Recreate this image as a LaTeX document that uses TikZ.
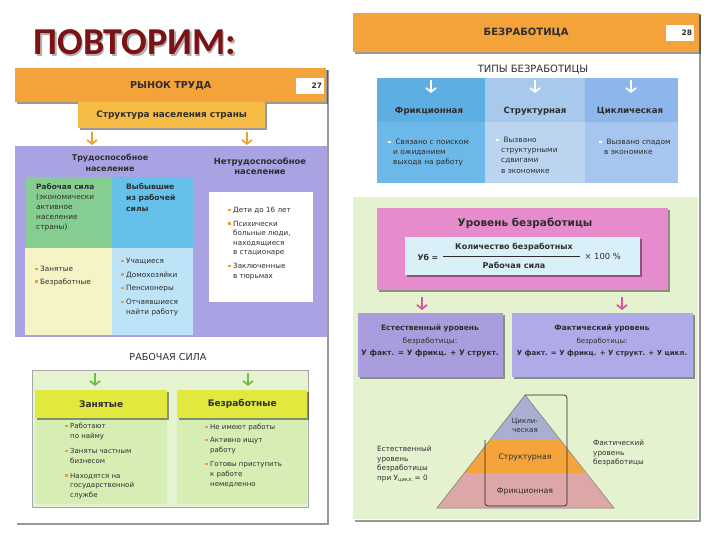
\documentclass[tikz,border=0pt]{standalone}
\usepackage{fontspec}
\setmainfont{DejaVu Sans}
\newfontfamily\titlefont{Carlito}
\usetikzlibrary{shadows,arrows.meta}
\definecolor{hdr}{HTML}{F4A23A}
\definecolor{strk}{HTML}{F6BC45}
\definecolor{lav}{HTML}{A9A3E3}
\definecolor{grn}{HTML}{86CD92}
\definecolor{sky}{HTML}{66C1EA}
\definecolor{paley}{HTML}{F6F3C6}
\definecolor{paleb}{HTML}{BCE3F6}
\definecolor{ygreen}{HTML}{E2E93E}
\definecolor{lgrzero}{HTML}{E6F3D0}
\definecolor{lgrone}{HTML}{D6EDB3}
\definecolor{bulor}{HTML}{F39C2C}
\definecolor{arrowor}{HTML}{F0A030}
\definecolor{arrowgr}{HTML}{6DBE45}
\definecolor{tbha}{HTML}{5DAEE2}
\definecolor{tbhb}{HTML}{A7C9EC}
\definecolor{tbhc}{HTML}{8DB7EA}
\definecolor{tbba}{HTML}{6CB8E8}
\definecolor{tbbb}{HTML}{BBD5F0}
\definecolor{tbbc}{HTML}{A6C6EF}
\definecolor{bgreen}{HTML}{E4F2D0}
\definecolor{pinkbox}{HTML}{E68BCB}
\definecolor{formb}{HTML}{DAF0F9}
\definecolor{purpa}{HTML}{A99DDD}
\definecolor{purpb}{HTML}{AEABE8}
\definecolor{pyrtop}{HTML}{A8AFD0}
\definecolor{pyrmid}{HTML}{F4A43A}
\definecolor{pyrbot}{HTML}{DDA7A7}
\definecolor{pinkarrow}{HTML}{E0509A}
\definecolor{titlered}{HTML}{7D1214}
\definecolor{txt}{HTML}{2E2E2E}
\newcommand{\bu}[1][bulor]{\textcolor{#1}{\rule[1.4pt]{2.4pt}{2.4pt}}\hspace{2.6pt}}
\newcommand{\hi}{\hspace*{5pt}}
\begin{document}
\begin{tikzpicture}[x=1pt,y=-1pt,
  box/.style={inner sep=0pt, anchor=north west, text=txt},
  shad/.style={drop shadow={shadow xshift=1.4pt, shadow yshift=-1.4pt, opacity=0.4, fill=black}},
  sm/.style={font=\fontsize{7}{9.6}\selectfont, text=txt, align=left, anchor=north west, inner sep=0pt},
  bsm/.style={font=\bfseries\fontsize{8}{10.5}\selectfont, text=txt, align=center, inner sep=0pt},
  hd/.style={font=\bfseries\fontsize{9.6}{11}\selectfont},
  subhd/.style={font=\bfseries\fontsize{9}{11}\selectfont},
  sec/.style={font=\fontsize{9.6}{11}\selectfont, text=txt, inner sep=0pt},
  numbox/.style={fill=white, minimum width=28, minimum height=16, inner sep=2pt, text width=24, align=right, font=\bfseries\fontsize{7.5}{9}\selectfont, text=txt},
  chev/.style={line width=1.7pt, -{Straight Barb[length=4pt,width=10pt,line width=1.7pt]}}
]
\useasboundingbox[fill=white] (0,0) rectangle (720,540);

% ---------- title
\node[anchor=base west, text=black!30, font=\titlefont\bfseries\fontsize{38}{38}\selectfont] at (31.5,56.5) {ПОВТОРИМ:};
\node[anchor=base west, text=titlered, font=\titlefont\bfseries\fontsize{38}{38}\selectfont] (title) at (30,55) {ПОВТОРИМ:};

% ---------- left page
\node[box, fill=white, shad, minimum width=312, minimum height=455] (lpage) at (15,68) {};
\node[box, fill=hdr, shad, minimum width=311, minimum height=34, hd] (lhead) at (15,68) {РЫНОК ТРУДА};
\node[numbox] (ptwentyseven) at (310,86) {27};
\node[box, fill=lav, minimum width=312, minimum height=191] (lavbox) at (15,146) {};
\node[box, fill=strk, shad, minimum width=187, minimum height=26, font=\bfseries\fontsize{8.9}{10}\selectfont] (str) at (78,102) {Структура населения страны};
\coordinate (aas) at (92,132); \coordinate (aae) at (92,145);
\coordinate (abs) at (247,132); \coordinate (abe) at (247,145);
\draw[chev, arrowor] (aas) -- (aae);
\draw[chev, arrowor] (abs) -- (abe);
\node[bsm] (trud) at (110,163) {Трудоспособное\\население};
\node[bsm, font=\bfseries\fontsize{8.4}{10.5}\selectfont] (netrud) at (260,166) {Нетрудоспособное\\население};

\node[box, fill=grn, minimum width=87, minimum height=71] (rsila) at (25,177) {};
\node[box, fill=sky, minimum width=81, minimum height=71] (vyb) at (112,177) {};
\node[box, fill=paley, minimum width=87, minimum height=87] (rsilab) at (25,248) {};
\node[box, fill=paleb, minimum width=81, minimum height=87] (vybb) at (112,248) {};
\node[sm, font=\fontsize{7.4}{10}\selectfont] (rsilat) at (36,183) {\textbf{Рабочая сила}\\(экономически\\активное\\население\\страны)};
\node[sm, font=\bfseries\fontsize{7.6}{11}\selectfont] (vybt) at (126,183) {Выбывшие\\из рабочей\\силы};
\node[sm, font=\fontsize{7.3}{12.5}\selectfont] (rsilabt) at (35,266) {\bu Занятые\\\bu Безработные};
\node[sm, font=\fontsize{7.3}{13.6}\selectfont] (vybbt) at (121,258) {\bu Учащиеся\\\bu Домохозяйки\\\bu Пенсионеры\\\bu Отчаявшиеся\\[-3.5pt]\hi найти работу};
\node[box, fill=white, minimum width=104, minimum height=110] (netbox) at (209,192) {};
\node[sm, font=\fontsize{7.2}{9.6}\selectfont] (nett) at (228,207) {\bu Дети до 16 лет\\[4pt]\bu Психически\\\hi больные люди,\\\hi находящиеся\\\hi в стационаре\\[4pt]\bu Заключенные\\\hi в тюрьмах};

\node[sec] (rstitle) at (168,357) {РАБОЧАЯ СИЛА};
\node[box, fill=lgrzero, draw=black!35, minimum width=276, minimum height=137] (rsbox) at (32,370) {};
\node[box, fill=lgrone, minimum width=132, minimum height=86] (zanp) at (35,418) {};
\node[box, fill=lgrone, minimum width=130, minimum height=86] (bezp) at (177,418) {};
\node[box, fill=ygreen, shad, minimum width=132, minimum height=28, subhd] (zan) at (35,390) {Занятые};
\node[box, fill=ygreen, shad, minimum width=130, minimum height=28, subhd] (bez) at (177,390) {Безработные};
\coordinate (gas) at (95,373); \coordinate (gae) at (95,386);
\coordinate (gbs) at (248,373); \coordinate (gbe) at (248,386);
\draw[chev, arrowgr] (gas) -- (gae);
\draw[chev, arrowgr] (gbs) -- (gbe);
\node[sm] (zant) at (65,423) {\bu Работают\\\hi по найму\\[6pt]\bu Заняты частным\\\hi бизнесом\\[5pt]\bu Находятся на\\\hi государственной\\\hi службе};
\node[sm, font=\fontsize{7}{10}\selectfont] (bezt) at (205,424) {\bu Не имеют работы\\[3pt]\bu Активно ищут\\\hi работу\\[4pt]\bu Готовы приступить\\\hi к работе\\\hi немедленно};

% ---------- right page
\node[box, fill=white, shad, minimum width=346, minimum height=508] (rpage) at (353,12) {};
\node[box, fill=hdr, shad, minimum width=346, minimum height=39, hd, font=\bfseries\fontsize{10}{11}\selectfont] (rhead) at (353,13) {БЕЗРАБОТИЦА};
\node[numbox] (ptwentyeight) at (680,33) {28};
\node[sec, font=\fontsize{10}{11}\selectfont] (types) at (533,70) {ТИПЫ БЕЗРАБОТИЦЫ};

\node[box, fill=tbha, minimum width=108, minimum height=44] (tha) at (377,78) {};
\node[box, fill=tbhb, minimum width=100, minimum height=44] (thb) at (485,78) {};
\node[box, fill=tbhc, minimum width=93, minimum height=44] (thc) at (585,78) {};
\node[box, fill=tbba, minimum width=108, minimum height=61] (tba) at (377,122) {};
\node[box, fill=tbbb, minimum width=100, minimum height=61] (tbb) at (485,122) {};
\node[box, fill=tbbc, minimum width=93, minimum height=61] (tbc) at (585,122) {};
\foreach \x/\n in {431/wa,535/wb,631/wc} {
  \coordinate (\n s) at (\x,80); \coordinate (\n e) at (\x,93);
  \draw[chev, white] (\n s) -- (\n e);
}
\node[bsm, font=\bfseries\fontsize{8.6}{9.6}\selectfont] (fr) at (429,111) {Фрикционная};
\node[bsm, font=\bfseries\fontsize{8.6}{9.6}\selectfont] (st) at (535,111) {Структурная};
\node[bsm, font=\bfseries\fontsize{8.6}{9.6}\selectfont] (cy) at (630,111) {Циклическая};
\node[sm, font=\fontsize{7.4}{9.8}\selectfont] (frt) at (388,139) {\bu[white] Связано с поиском\\\hi и ожиданием\\\hi выхода на работу};
\node[sm, font=\fontsize{7.4}{10.2}\selectfont] (stt) at (496,137) {\bu[white] Вызвано\\\hi структурными\\\hi сдвигами\\\hi в экономике};
\node[sm, font=\fontsize{7.4}{9.8}\selectfont] (cyt) at (599,139) {\bu[white] Вызвано спадом\\\hi в экономике};

\node[box, fill=bgreen, minimum width=345, minimum height=322] (gbg) at (353,197) {};
\node[box, fill=pinkbox, shad, minimum width=291, minimum height=82] (level) at (377,208) {};
\node[font=\bfseries\fontsize{10.5}{12}\selectfont, text=txt] (levelt) at (525,223) {Уровень безработицы};
\node[box, fill=formb, shad, minimum width=235, minimum height=38] (formula) at (405,237) {};
\node[font=\bfseries\fontsize{7.8}{9}\selectfont, text=txt, anchor=west] (ub) at (414,257) {Уб =};
\node[font=\bfseries\fontsize{8}{9}\selectfont, text=txt] (num) at (514,247) {Количество безработных};
\node[font=\bfseries\fontsize{8}{9}\selectfont, text=txt] (den) at (514,265) {Рабочая сила};
\coordinate (fla) at (443,256); \coordinate (flb) at (580,256);
\draw[txt, line width=0.6pt] (fla) -- (flb);
\node[font=\fontsize{8.4}{9}\selectfont, text=txt, anchor=west] (pct) at (581,256) {× 100 \%};

\coordinate (pas) at (422,297); \coordinate (pae) at (422,310);
\coordinate (pbs) at (622,297); \coordinate (pbe) at (622,310);
\draw[chev, pinkarrow] (pas) -- (pae);
\draw[chev, pinkarrow] (pbs) -- (pbe);

\node[box, fill=purpa, shad, minimum width=145, minimum height=64] (nat) at (358,313) {};
\node[box, fill=purpb, shad, minimum width=181, minimum height=64] (act) at (512,313) {};
\node[font=\fontsize{7.5}{12.5}\selectfont, text=txt, align=center, inner sep=0pt] (natt) at (430,341) {\textbf{Естественный уровень}\\безработицы:\\\textbf{У факт. = У фрикц. + У структ.}};
\node[font=\fontsize{7}{12.5}\selectfont, text=txt, align=center, inner sep=0pt] (actt) at (602,341) {\textbf{\fontsize{7.5}{12.5}\selectfont Фактический уровень}\\безработицы:\\\textbf{У факт. = У фрикц. + У структ. + У цикл.}};

% pyramid
\fill[pyrtop] (525,395) -- (490,440) -- (560,440) -- cycle;
\fill[pyrmid] (490,440) -- (560,440) -- (585.7,473) -- (464.3,473) -- cycle;
\fill[pyrbot] (464.3,473) -- (585.7,473) -- (614,508) -- (437,508) -- cycle;
\draw[black!55, line width=0.5pt] (525,395) -- (614,508) -- (437,508) -- cycle;
\draw[black!85, line width=0.7pt, rounded corners=3pt] (485,440) -- (485,506) -- (567,506) -- (567,395) -- (525,395);
\node[font=\fontsize{7.2}{9}\selectfont, text=txt, align=center, inner sep=0pt] (cyc) at (525,425) {Цикли-\\ческая};
\node[font=\fontsize{7.8}{9}\selectfont, text=txt, inner sep=0pt] (str2) at (525,457) {Структурная};
\node[font=\fontsize{7.8}{9}\selectfont, text=txt, inner sep=0pt] (fri2) at (525,491) {Фрикционная};
\node[sm, font=\fontsize{7.3}{9.6}\selectfont] (natlab) at (377,446) {Естественный\\уровень\\безработицы\\при У\textsubscript{цикл.}\,= 0};
\node[sm, font=\fontsize{7.3}{9.4}\selectfont] (actlab) at (593,440) {Фактический\\уровень\\безработицы};
\end{tikzpicture}
\end{document}
